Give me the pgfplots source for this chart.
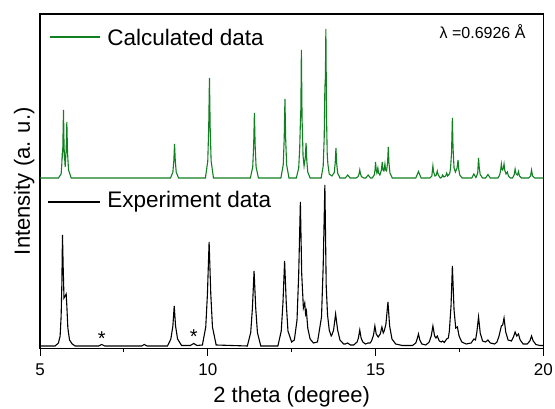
\documentclass[border=0pt]{standalone}
\usepackage{pgfplots}
\pgfplotsset{compat=1.18}
\usepackage{fontspec}
\setmainfont{Liberation Sans}
\definecolor{calc}{RGB}{16,128,32}
\begin{document}
\begin{tikzpicture}
\begin{axis}[
  scale only axis, width=503.3pt, height=334.5pt,
  xmin=5, xmax=20, ymin=0, ymax=334.5,
  xtick={5,10,15,20}, minor x tick num=1,
  ytick=\empty,
  xtick pos=bottom, tick align=outside,
  major tick length=8pt, minor tick length=4pt,
  every tick/.style={line width=1pt, black},
  axis line style={line width=1.2pt},
  /pgf/number format/assume math mode=true,
  ticklabel style={font=\fontsize{17}{20}\selectfont},
  xticklabel style={yshift=-4pt},
  xlabel={2 theta (degree)},
  ylabel={Intensity (a. u.)},
  label style={font=\fontsize{22}{26}\selectfont},
  xlabel style={yshift=-4pt},
  ylabel style={yshift=-6pt},
  clip=true,
]
% Calculated data (heights above its baseline)
\addplot[calc, line width=1.1pt, y filter/.expression={y+170.5}] coordinates {
(5,0)(5.55,0)(5.63,4)(5.65,14)(5.66,23)(5.675,22)(5.70,68)(5.718,30)(5.75,11)(5.78,28)(5.80,56)(5.82,26)(5.85,8)(5.93,0)
(8.89,0)(8.96,5.8)(8.988,17)(9.01,34)(9.032,17)(9.06,5.8)(9.13,0)
(9.93,0)(10.0,17)(10.028,50)(10.05,100)(10.072,50)(10.10,17)(10.17,0)
(11.27,0)(11.34,11)(11.368,32.5)(11.39,65)(11.412,32.5)(11.44,11)(11.51,0)
(12.18,0)(12.25,13.4)(12.278,39.5)(12.30,79)(12.322,39.5)(12.35,13.4)(12.42,0)
(12.64,0)(12.71,10)(12.74,30)(12.76,55)(12.775,70)(12.79,128)(12.81,60)(12.84,22)(12.87,12)(12.905,20)(12.93,35)(12.952,17)(12.98,6)(13.05,0)
(13.38,0)(13.44,12)(13.47,40)(13.49,90)(13.505,100)(13.52,149)(13.54,60)(13.56,24)(13.58,14)(13.62,4)(13.70,2)
(13.77,5.5)(13.798,15)(13.82,30)(13.842,15)(13.87,5)(13.94,0)
(14.10,0)(14.17,3)(14.24,0)
(14.42,0)(14.48,1.4)(14.508,4)(14.53,8)(14.552,4)(14.58,1.4)(14.65,0)
(14.71,0)(14.78,3)(14.85,0)
(14.90,0)(14.96,3)(14.985,8)(15.00,16)(15.02,8)(15.04,5)(15.07,10)(15.09,5)(15.13,3)(15.175,8)(15.20,16)(15.22,8)(15.25,7)(15.28,14)(15.30,8)(15.33,7)(15.36,16)(15.38,31)(15.40,15)(15.43,5)(15.50,0)
(16.20,0)(16.28,6.5)(16.36,0)
(16.62,0)(16.68,2)(16.69,6)(16.71,12)(16.73,6)(16.77,2)(16.81,3)(16.84,7)(16.87,3)(16.93,0)
(16.97,0.5)(17.00,3)(17.04,1)(17.09,2)(17.12,5)(17.15,2)(17.20,4)
(17.22,6)(17.24,12)(17.265,25)(17.29,60)(17.31,30)(17.34,10)(17.38,6)(17.43,10)(17.46,18)(17.48,9)(17.51,3)(17.58,0)
(17.87,0)(17.93,4)(17.99,0.5)
(18.00,1)(18.045,5)(18.07,20)(18.092,10)(18.12,3.4)(18.19,0)
(18.28,0)(18.35,3.5)(18.42,0)
(18.65,0)(18.70,3)(18.73,8)(18.75,14)(18.77,9)(18.79,8)(18.81,10)(18.83,14)(18.85,8)(18.89,4)(18.93,6)(18.96,2)(19.02,0)
(19.08,0)(19.13,3)(19.16,9)(19.19,4)(19.23,3)(19.26,6.5)(19.29,2)(19.35,0)
(19.56,0)(19.62,2)(19.65,8)(19.68,2)(19.74,0)(20,0)
};
% Experiment data
\addplot[black, line width=1.1pt, y filter/.expression={y+2.5}] coordinates {
(5,0)(5.45,0)(5.55,3)(5.60,10)(5.63,30)(5.65,60)(5.67,111)(5.69,80)(5.715,48)(5.75,50)(5.78,52)(5.80,40)(5.83,18)(5.88,6)(5.96,2)(6.05,0)
(6.75,0)(6.84,1.5)(6.93,0)
(8.03,0)(8.11,1.5)(8.19,0)
(8.80,0)(8.90,7)(8.96,20)(9.00,40)(9.04,20)(9.10,7)(9.22,0.5)
(9.48,0.5)(9.58,2.5)(9.68,0.5)
(9.84,1)(9.94,19)(9.99,52)(10.04,104)(10.09,52)(10.14,19)(10.25,1)
(11.18,0)(11.28,13.5)(11.33,37.5)(11.38,75)(11.43,37.5)(11.48,13.5)(11.58,0)
(12.09,0)(12.19,15)(12.24,42.5)(12.29,85)(12.34,42.5)(12.39,15)(12.50,4)
(12.58,6)(12.66,26)(12.71,72)(12.76,144)(12.80,72)(12.85,38)(12.89,43)(12.915,32)(12.94,35)(12.98,18)(13.05,7)(13.15,3)
(13.27,4)(13.39,29)(13.44,80)(13.49,161)(13.53,60)(13.57,31)(13.62,16)(13.68,10)
(13.70,11)(13.75,16)(13.81,32)(13.87,16)(13.94,6)(14.05,2)
(14.10,2)(14.17,3)(14.25,1)
(14.35,1)(14.45,4)(14.49,8)(14.53,16)(14.57,8)(14.62,4)(14.70,2)
(14.78,3)(14.84,3)
(14.88,5)(14.94,11)(14.98,20)(15.02,12)(15.08,9)(15.14,12)(15.19,19)(15.23,13)(15.26,15)(15.31,22)(15.37,44)(15.42,20)(15.49,7)(15.60,2)(15.8,0.5)
(16.10,0.5)(16.20,3)(16.24,7)(16.28,12)(16.32,6)(16.38,2)
(16.50,1)(16.60,4)(16.66,10)(16.71,20)(16.76,10)(16.80,8)(16.84,10)(16.90,5)
(16.96,4)(17.00,5)(17.05,3.5)(17.12,7)(17.17,8)
(17.20,15)(17.25,40)(17.29,80)(17.34,36)(17.39,18)(17.44,19)(17.49,10)(17.57,4)(17.70,2)
(17.85,3)(17.93,7)(17.98,6)
(18.02,14)(18.07,29)(18.12,13)(18.19,5)(18.28,4)
(18.35,6)(18.42,3)(18.55,2)
(18.62,4)(18.68,10)(18.75,20)(18.79,21)(18.83,28)(18.88,14)(18.95,6)(19.05,5)
(19.11,9)(19.16,14)(19.21,10)(19.26,12)(19.31,6)(19.40,2)(19.52,2)
(19.60,5)(19.65,10)(19.70,5)(19.78,1.5)(19.90,0.5)(20,0.5)
};
% legend-like labels
\draw[calc, line width=1.1pt] (axis cs:5.30,311.5) -- (axis cs:6.79,311.5);
\node[anchor=west, font=\fontsize{22.5}{27}\selectfont, inner sep=0pt] at (axis cs:7.0,311.5) {Calculated data};
\draw[black, line width=1.1pt] (axis cs:5.24,146.5) -- (axis cs:6.79,146.5);
\node[anchor=west, font=\fontsize{22.5}{27}\selectfont, inner sep=0pt] at (axis cs:7.0,146.5) {Experiment data};
\node[font=\fontsize{16}{19}\selectfont, inner sep=0pt] at (axis cs:18.19,316.5) {λ =0.6926 Å};
\node[font=\fontsize{20}{24}\selectfont, inner sep=0pt] at (axis cs:6.84,10) {*};
\node[font=\fontsize{20}{24}\selectfont, inner sep=0pt] at (axis cs:9.58,12) {*};
\end{axis}
\pgfresetboundingbox
\path (current axis.south west) ++(-40pt,-60.5pt) rectangle ++(555pt,409pt);
\end{tikzpicture}
\end{document}
